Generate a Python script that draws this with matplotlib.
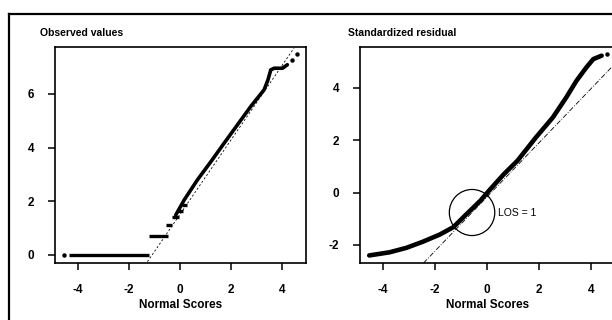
import matplotlib.pyplot as plt
from matplotlib.patches import Ellipse
from matplotlib.lines import Line2D

plt.rcParams['font.family'] = ['Liberation Sans', 'DejaVu Sans']
plt.rcParams['axes.unicode_minus'] = False

# left panel: observed values vs normal scores
step_y = [0.0, 0.72, 1.12, 1.41, 1.65, 1.87]
step_x0 = [-4.34, -1.20, -0.53, -0.29, -0.08, 0.10]
step_x1 = [-1.20, -0.48, -0.29, -0.04, 0.14, 0.30]
obs_x = [-0.16, 0.17, 0.69, 1.22, 1.74, 2.26, 2.78, 3.31, 3.46, 3.57, 3.70, 4.03, 4.22]
obs_y = [1.49, 2.05, 2.80, 3.48, 4.17, 4.85, 5.53, 6.16, 6.53, 6.90, 6.96, 6.96, 7.09]
obs_dot_x = [-4.54, 4.42, 4.61]
obs_dot_y = [0.0, 7.25, 7.50]
obs_ref_x = [-1.27, 4.48]
obs_ref_y = [-0.25, 7.71]

# right panel: standardized residual vs normal scores
res_x = [-4.54, -3.76, -3.11, -2.46, -1.82, -1.30, -0.78, -0.26, 0.13, 0.65,
         1.17, 1.88, 2.53, 3.05, 3.44, 3.82, 4.09, 4.41]
res_y = [-2.40, -2.28, -2.11, -1.87, -1.60, -1.32, -0.81, -0.31, 0.14, 0.71,
         1.22, 2.11, 2.87, 3.64, 4.27, 4.78, 5.10, 5.23]
res_dot_x = [4.63]
res_dot_y = [5.29]
res_ref_x = [-2.45, 4.95]
res_ref_y = [-2.69, 4.95]
los_center = (-0.58, -0.76)

fig = plt.figure(figsize=(6.12, 3.2), dpi=100)
ax1 = fig.add_axes([0.0899, 0.178, 0.410, 0.675])
ax2 = fig.add_axes([0.588, 0.178, 0.418, 0.675])

# outer frame of the figure
fig.add_artist(Line2D([0.015, 0.015], [0.0, 0.956], color='black', lw=1.6))
fig.add_artist(Line2D([0.015, 1.0], [0.956, 0.956], color='black', lw=1.6))

ax1.hlines(step_y, step_x0, step_x1, colors='black', lw=2.4)
ax1.plot(obs_x, obs_y, color='black', lw=2.6, solid_capstyle='round')
ax1.plot(obs_dot_x, obs_dot_y, 'o', color='black', ms=2.2)
ax1.plot(obs_ref_x, obs_ref_y, color='black', lw=0.6, ls=(0, (2.5, 2.5)))
ax1.set_xlim(-4.9, 4.95)
ax1.set_ylim(-0.3, 7.75)
ax1.set_yticks([0, 2, 4, 6])
ax1.text(-0.06, 1.065, 'Observed values', transform=ax1.transAxes,
         fontsize=7.5, fontweight='bold', va='center', ha='left')

ax2.plot(res_x, res_y, color='black', lw=3.3, solid_capstyle='round')
ax2.plot(res_dot_x, res_dot_y, 'o', color='black', ms=2.2)
ax2.plot(res_ref_x, res_ref_y, color='black', lw=0.6, ls=(0, (6, 2, 1, 2)))
ax2.add_patch(Ellipse(los_center, 1.75, 1.76, fill=False, ec='black', lw=0.9))
ax2.text(0.4, -0.76, 'LOS = 1', fontsize=7.5, va='center', ha='left')
ax2.set_xlim(-4.9, 4.95)
ax2.set_ylim(-2.69, 5.56)
ax2.set_yticks([-2, 0, 2, 4])
ax2.text(-0.048, 1.065, 'Standardized residual', transform=ax2.transAxes,
         fontsize=7.5, fontweight='bold', va='center', ha='left')

for ax in (ax1, ax2):
    ax.set_xticks([-4, -2, 0, 2, 4])
    ax.set_xlabel('Normal Scores', fontsize=8.5, fontweight='bold', labelpad=2)
    ax.tick_params(direction='out', length=5, width=1.1, labelsize=8.5, pad=10)
    for lab in ax.get_xticklabels() + ax.get_yticklabels():
        lab.set_fontweight('bold')
    for sp in ax.spines.values():
        sp.set_linewidth(1.2)

fig.savefig('out.png', dpi=100)
